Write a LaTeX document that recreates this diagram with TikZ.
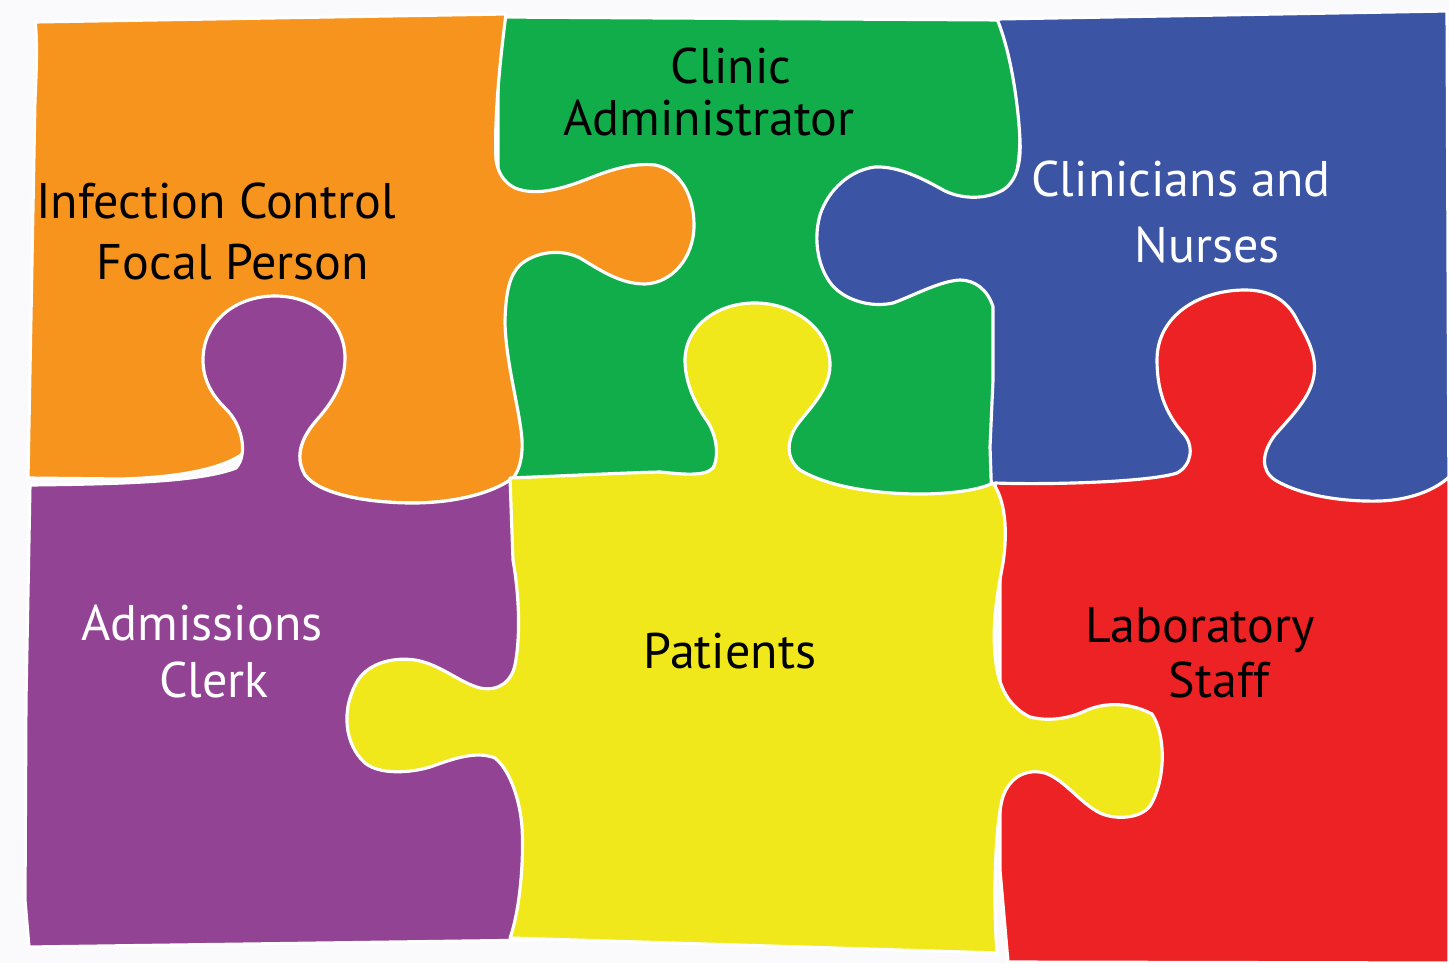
\documentclass[tikz,border=0pt]{standalone}
\usepackage{fontspec}
\setmainfont{PT Sans}
\definecolor{pOrange}{HTML}{F7941E}
\definecolor{pGreen}{HTML}{12AD4B}
\definecolor{pBlue}{HTML}{3B54A4}
\definecolor{pPurple}{HTML}{934394}
\definecolor{pYellow}{HTML}{F0E81A}
\definecolor{pRed}{HTML}{ED2224}
\definecolor{bgc}{HTML}{FAF9FC}
\tikzset{
  piece/.style={fill=#1, draw=white, line width=1.8pt, line join=round},
  lbl/.style={anchor=base, font=\fontsize{28.5}{34}\selectfont, text=#1, inner sep=0pt}
}
\begin{document}
\begin{tikzpicture}[x=0.02cm,y=-0.02cm]
\useasboundingbox (0,0) rectangle (1449,963);
\fill[bgc] (0,0) rectangle (1449,963);
% green
\path[piece=pGreen] (498,17) -- (1003,20) .. controls (1016,60) and (1024,120) .. (1018,165) -- (1012,200) -- (1012,495) -- (515,495) -- (498,470) -- cycle;
% orange
\path[piece=pOrange] (35,22) -- (506,14) .. controls (500,60) and (494,120) .. (496,160)
  .. controls (498,172) and (503,182) .. (515,188)
  .. controls (535,196) and (560,190) .. (590,178)
  .. controls (615,168) and (635,163) .. (655,165)
  .. controls (680,170) and (694,195) .. (694,225)
  .. controls (694,258) and (672,283) .. (645,284)
  .. controls (620,284) and (600,270) .. (580,258)
  .. controls (560,248) and (535,252) .. (520,265)
  .. controls (510,275) and (506,290) .. (505,320)
  .. controls (505,360) and (520,410) .. (522,440)
  .. controls (523,460) and (518,472) .. (513,478)
  .. controls (490,495) and (450,503) .. (413,503)
  .. controls (370,503) and (320,495) .. (305,475)
  .. controls (295,458) and (300,440) .. (315,422)
  -- (255,440)
  .. controls (245,462) and (200,477) .. (120,479)
  -- (28,478)
  -- (35,100) .. controls (37,60) and (37,35) .. (35,22) -- cycle;
% purple
\path[piece=pPurple] (30,485) .. controls (120,484) and (200,482) .. (236,468)
  .. controls (248,455) and (243,425) .. (225,408)
  .. controls (212,395) and (203,380) .. (203,360)
  .. controls (203,322) and (235,296) .. (275,296)
  .. controls (315,296) and (345,322) .. (345,358)
  .. controls (345,385) and (330,405) .. (315,422)
  .. controls (300,440) and (295,458) .. (305,475)
  .. controls (320,495) and (370,503) .. (413,503)
  .. controls (450,503) and (490,495) .. (513,478)
  -- (540,478) -- (540,940) -- (29,947) -- (25,900) -- (26,700) -- cycle;
% blue
\path[piece=pBlue] (997,19) -- (1447,11) -- (1449,505) -- (992,505) -- (990,447) -- (993,380) -- (993,307)
  .. controls (988,290) and (975,280) .. (960,280)
  .. controls (940,281) and (915,295) .. (893,303)
  .. controls (870,308) and (845,300) .. (832,285)
  .. controls (818,268) and (813,240) .. (820,215)
  .. controls (828,190) and (850,170) .. (875,167)
  .. controls (900,166) and (925,180) .. (945,191)
  .. controls (962,199) and (985,200) .. (1003,190)
  .. controls (1018,180) and (1021,160) .. (1020,140)
  .. controls (1018,100) and (1010,50) .. (997,19) -- cycle;
% red
\path[piece=pRed] (995,483) .. controls (1050,485) and (1150,482) .. (1177,473)
  .. controls (1192,465) and (1195,445) .. (1182,432)
  .. controls (1165,412) and (1157,390) .. (1157,360)
  .. controls (1157,315) and (1200,290) .. (1245,290)
  .. controls (1270,290) and (1288,300) .. (1298,322)
  .. controls (1310,342) and (1318,360) .. (1313,380)
  .. controls (1308,400) and (1290,418) .. (1275,435)
  .. controls (1262,452) and (1260,470) .. (1275,480)
  .. controls (1300,495) and (1340,502) .. (1380,501)
  .. controls (1410,500) and (1435,490) .. (1449,477)
  -- (1449,963) -- (1008,962) -- (1000,870) -- (1000,560) -- cycle;
% yellow
\path[piece=pYellow] (510,478) .. controls (560,476) and (620,473) .. (660,472)
  .. controls (680,474) and (705,477) .. (713,468)
  .. controls (720,455) and (716,432) .. (705,418)
  .. controls (693,400) and (685,380) .. (685,360)
  .. controls (685,328) and (715,303) .. (755,303)
  .. controls (795,303) and (830,330) .. (830,365)
  .. controls (830,390) and (808,410) .. (797,425)
  .. controls (787,440) and (785,458) .. (800,470)
  .. controls (830,488) and (880,494) .. (920,494)
  .. controls (950,494) and (980,490) .. (993,483)
  .. controls (1005,500) and (1008,530) .. (1003,563)
  .. controls (998,590) and (992,620) .. (995,655)
  .. controls (997,680) and (1005,705) .. (1030,717)
  .. controls (1050,722) and (1070,718) .. (1085,711)
  .. controls (1100,704) and (1125,700) .. (1152,714)
  .. controls (1166,735) and (1166,780) .. (1150,806)
  .. controls (1140,819) and (1115,820) .. (1100,813)
  .. controls (1080,803) and (1065,780) .. (1045,773)
  .. controls (1025,768) and (1008,778) .. (1002,800)
  .. controls (995,830) and (993,900) .. (997,953)
  -- (510,938)
  .. controls (520,910) and (524,860) .. (522,827)
  .. controls (520,800) and (510,770) .. (495,758)
  .. controls (475,750) and (450,760) .. (430,767)
  .. controls (410,773) and (380,775) .. (365,763)
  .. controls (345,745) and (340,710) .. (358,680)
  .. controls (370,662) and (395,657) .. (415,660)
  .. controls (440,664) and (460,683) .. (480,688)
  .. controls (500,692) and (512,680) .. (515,665)
  .. controls (520,640) and (520,600) .. (513,560) -- cycle;
% labels
\node[lbl=black] (ic1) at (216,218) {Infection Control};
\node[lbl=black] (ic2) at (233,279) {Focal Person};
\node[lbl=black] (ca1) at (731,84) {Clinic};
\node[lbl=black] (ca2) at (709,135) {Administrator};
\node[lbl=white] (cn1) at (1181,196) {Clinicians and};
\node[lbl=white] (cn2) at (1207,262) {Nurses};
\node[lbl=white] (ad1) at (202,640) {Admissions};
\node[lbl=white] (ad2) at (214,697) {Clerk};
\node[lbl=black] (pt) at (730,668) {Patients};
\node[lbl=black] (lb1) at (1200,642) {Laboratory};
\node[lbl=black] (lb2) at (1219,697) {Staff};
\end{tikzpicture}
\end{document}
